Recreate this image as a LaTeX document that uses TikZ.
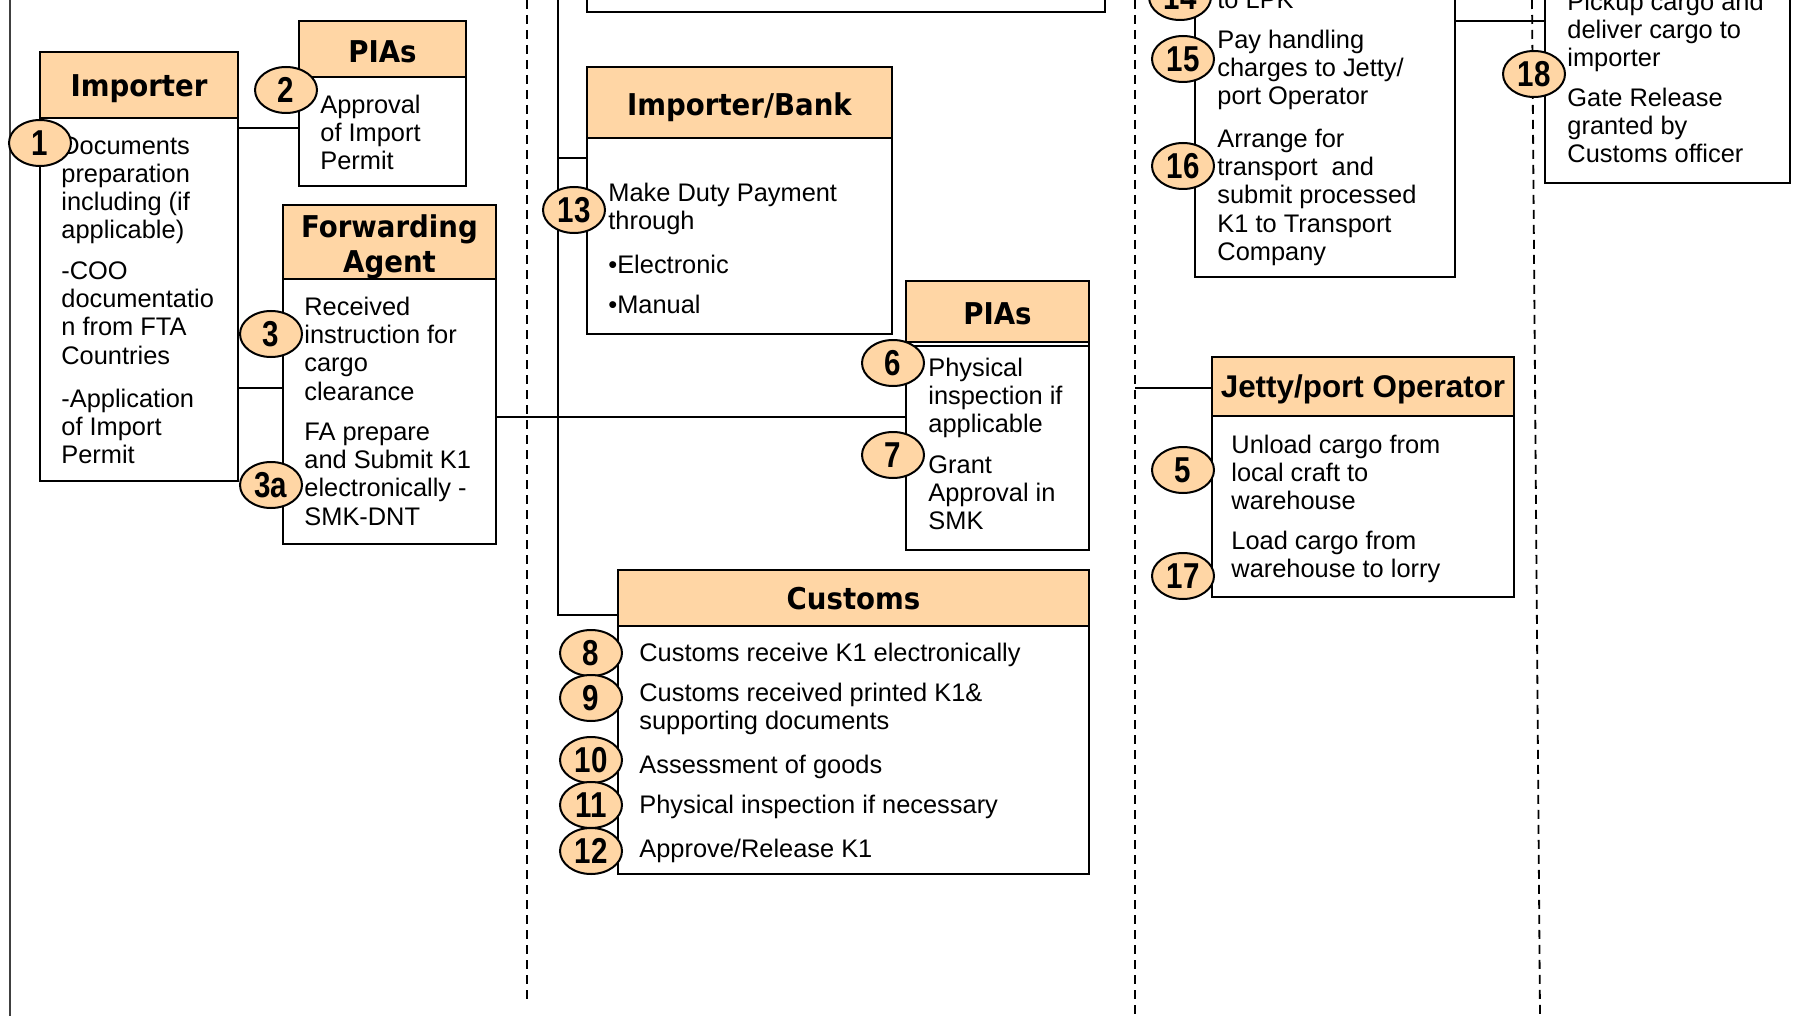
\documentclass[tikz,border=0pt]{standalone}
\usepackage{fontspec}
\setmainfont{Liberation Sans}
\newfontfamily\hdrfont{DejaVu Sans}[FakeStretch=0.92]
\newfontfamily\jfont{Liberation Sans}
\newfontfamily\numfont{Liberation Sans}[FakeStretch=0.82]
\usetikzlibrary{fit,shapes.geometric}
\definecolor{peach}{RGB}{255,214,165}
\newcommand{\tstrut}{\rule{0pt}{10pt}}
\tikzset{
  boxline/.style={draw=black, line width=1.1pt},
  hdrbox/.style={boxline, fill=peach, inner sep=0pt},
  bodybox/.style={boxline, fill=white, inner sep=0pt},
  hdrtext/.style={font=\hdrfont\bfseries\fontsize{15}{17.5}\selectfont, anchor=mid, yshift=-3pt, inner sep=0pt, align=center},
  jtext/.style={font=\jfont\bfseries\fontsize{15.7}{18}\selectfont, anchor=mid, yshift=-3pt, inner sep=0pt},
  para/.style={anchor=north west, yshift=10pt, inner sep=0pt, align=left, font=\fontsize{12.7}{14.1}\selectfont},
  badge/.style={ellipse, draw=black, line width=1pt, fill=peach, minimum width=31pt, minimum height=23pt, inner sep=0pt, font=\numfont\bfseries\fontsize{18}{20}\selectfont},
  conn/.style={draw=black, line width=0.9pt},
  lane/.style={draw=black, line width=0.9pt, dash pattern=on 4.5pt off 3pt},
  edge/.style={draw=black!75, line width=0.6pt},
}
\begin{document}
\begin{tikzpicture}[x=0.5pt,y=-0.5pt]
\useasboundingbox (0,0) rectangle (1798,1016);
\clip (0,0) rectangle (1798,1016);
\fill[white] (0,0) rectangle (1798,1016);

% lane lines
\coordinate (e0t) at (10,-5); \coordinate (e0b) at (10,1020);
\draw[edge] (e0t) -- (e0b);
\coordinate (l1t) at (527,0); \coordinate (l1b) at (527,1004);
\draw[lane] (l1t) -- (l1b);
\coordinate (l2t) at (1135,0); \coordinate (l2b) at (1135,1016);
\draw[lane] (l2t) -- (l2b);
\coordinate (l3t) at (1532,0); \coordinate (l3b) at (1540,1016);
\draw[lane] (l3t) -- (l3b);

% boxes
\node[bodybox, fit={(587,-20) (1105,12)}] (topbox) {};

\node[hdrbox, fit={(40,52) (238,118)}] (imp-h) {};
\node[bodybox, fit={(40,118) (238,481)}] (imp-b) {};

\node[hdrbox, fit={(299,21) (466,77)}] (pia1-h) {};
\node[bodybox, fit={(299,77) (466,186)}] (pia1-b) {};

\node[hdrbox, fit={(283,205) (496,279)}] (fa-h) {};
\node[bodybox, fit={(283,279) (496,544)}] (fa-b) {};

\node[hdrbox, fit={(587,67) (892,138)}] (ib-h) {};
\node[bodybox, fit={(587,138) (892,334)}] (ib-b) {};

\node[hdrbox, fit={(906,281) (1089,342)}] (pia2-h) {};
\node[bodybox, fit={(906,342) (1089,550)}] (pia2-b) {};
\draw[line width=1.1pt] (pia2-b.north west) ++(0,5) -- ++(183,0);

\node[hdrbox, fit={(618,570) (1089,626)}] (cus-h) {};
\node[bodybox, fit={(618,626) (1089,874)}] (cus-b) {};

\node[bodybox, fit={(1195,-20) (1455,277)}] (box14) {};

\node[hdrbox, fit={(1212,357) (1514,416)}] (jet-h) {};
\node[bodybox, fit={(1212,416) (1514,597)}] (jet-b) {};

\node[bodybox, fit={(1545,-20) (1790,183)}] (box18) {};

% connectors
\coordinate (yA) at (0,128);
\draw[conn] (imp-b.east |- yA) -- (pia1-b.west |- yA);
\coordinate (yB) at (0,388);
\draw[conn] (imp-b.east |- yB) -- (fa-b.west |- yB);
\coordinate (yC) at (0,417);
\draw[conn] (fa-b.east |- yC) -- (pia2-b.west |- yC);
\coordinate (v1top) at (558,-5);
\coordinate (v1bot) at (558,615);
\draw[conn] (v1top) -- (v1bot) -- (cus-h.west |- v1bot);
\coordinate (yD) at (558,158);
\draw[conn] (yD) -- (ib-b.west |- yD);
\coordinate (yE) at (1135,388);
\draw[conn] (yE) -- (jet-h.west |- yE);
\coordinate (yF) at (0,21);
\draw[conn] (box14.east |- yF) -- (box18.west |- yF);

% header texts
\node[hdrtext] (imp-t) at (imp-h.center) {Importer};
\node[hdrtext, yshift=-1pt] (pia1-t) at (pia1-h.center) {PIAs};
\node[hdrtext, anchor=center, yshift=0.5pt] (fa-t) at (fa-h.center) {Forwarding\\Agent};
\node[hdrtext, yshift=-1pt] (ib-t) at (ib-h.center) {Importer/Bank};
\node[hdrtext, yshift=-1pt] (pia2-t) at (pia2-h.center) {PIAs};
\node[hdrtext] (cus-t) at (cus-h.center) {Customs};
\node[jtext] (jet-t) at (jet-h.center) {Jetty/port Operator};

% body texts
\node[para] (t1) at (61,154) {\tstrut Documents\\preparation\\including (if\\applicable)};
\node[para] (t1b) at (61,279) {\tstrut -COO\\documentatio\\n from FTA\\Countries};
\node[para] (t1c) at (61,407) {\tstrut -Application\\of Import\\Permit};
\node[para] (t2) at (320,113) {\tstrut Approval\\of Import\\Permit};
\node[para] (t3) at (304,315) {\tstrut Received\\instruction for\\cargo\\clearance};
\node[para] (t3a) at (304,440) {\tstrut FA prepare\\and Submit K1\\electronically -\\SMK-DNT};
\node[para] (t13) at (608,201) {\tstrut Make Duty Payment\\through};
\node[para] (t13b) at (608,273) {\tstrut •Electronic};
\node[para] (t13c) at (608,313) {\tstrut •Manual};
\node[para] (t6) at (928,376) {\tstrut Physical\\inspection if\\applicable};
\node[para] (t7) at (928,473) {\tstrut Grant\\Approval in\\SMK};
\node[para] (t8) at (639,661) {\tstrut Customs receive K1 electronically};
\node[para] (t9) at (639,701) {\tstrut Customs received printed K1\&\\supporting documents};
\node[para] (t10) at (639,773) {\tstrut Assessment of goods};
\node[para] (t11) at (639,813) {\tstrut Physical inspection if necessary};
\node[para] (t12) at (639,857) {\tstrut Approve/Release K1};
\node[para] (t14) at (1217,8) {\tstrut to LPK};
\node[para] (t15) at (1217,48) {\tstrut Pay handling\\charges to Jetty/\\port Operator};
\node[para] (t16) at (1217,147) {\tstrut Arrange for\\transport\ \ and\\submit processed\\K1 to Transport\\Company};
\node[para] (t5) at (1231,453) {\tstrut Unload cargo from\\local craft to\\warehouse};
\node[para] (t17) at (1231,549) {\tstrut Load cargo from\\warehouse to lorry};
\node[para] (t18a) at (1567,10) {\tstrut Pickup cargo and\\deliver cargo to\\importer};
\node[para] (t18b) at (1567,106) {\tstrut Gate Release\\granted by\\Customs officer};

% badges
\node[badge] (n1) at (40,143) {1};
\node[badge] (n2) at (286,90) {2};
\node[badge] (n3) at (271,334) {3};
\node[badge] (n3a) at (271,485) {3a};
\node[badge] (n13) at (574,210) {13};
\node[badge] (n6) at (893,363) {6};
\node[badge] (n7) at (893,455) {7};
\node[badge] (n8) at (591,653) {8};
\node[badge] (n9) at (591,698) {9};
\node[badge] (n10) at (591,760) {10};
\node[badge] (n11) at (591,805) {11};
\node[badge] (n12) at (591,851) {12};
\node[badge] (n14) at (1180,-3) {14};
\node[badge] (n15) at (1183,59) {15};
\node[badge] (n16) at (1183,166) {16};
\node[badge] (n5) at (1183,470) {5};
\node[badge] (n17) at (1183,576) {17};
\node[badge] (n18) at (1534,74) {18};
\end{tikzpicture}
\end{document}
